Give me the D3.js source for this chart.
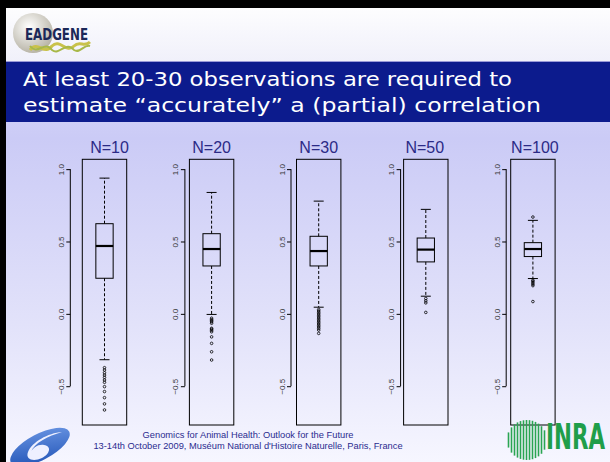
<!DOCTYPE html>
<html>
<head>
<meta charset="utf-8">
<title>Correlation accuracy by sample size</title>
<script src="https://cdn.jsdelivr.net/npm/d3@7"></script>
<style>
body, html { margin: 0; padding: 0; border: 0; background: #fff; }
svg { display: block; }
</style>
</head>
<body>
<script>
// --- data ---
var panelLabels = ["N=10", "N=20", "N=30", "N=50", "N=100"];
var lowerQuartile = [0.246, 0.331, 0.331, 0.359, 0.396];
var medians       = [0.469, 0.448, 0.434, 0.444, 0.448];
var upperQuartile = [0.623, 0.554, 0.536, 0.524, 0.492];
var whiskerLow    = [-0.317, -0.004, 0.046, 0.122, 0.244];
var whiskerHigh   = [0.938, 0.839, 0.779, 0.722, 0.646];
var outliers = [
  [-0.372, -0.388, -0.407, -0.423, -0.439, -0.457, -0.473, -0.503, -0.537, -0.579, -0.622, -0.664],
  [-0.03, -0.04, -0.047, -0.055, -0.065, -0.10, -0.106, -0.114, -0.124, -0.159, -0.204, -0.262, -0.319],
  [0.03, 0.02, 0.01, 0.0, -0.01, -0.02, -0.03, -0.04, -0.05, -0.06, -0.07, -0.08, -0.09, -0.10, -0.112, -0.135],
  [0.106, 0.09, 0.076, 0.01],
  [0.669, 0.232, 0.225, 0.215, 0.205, 0.195, 0.085]
];
var yTicks = [-0.5, 0.0, 0.5, 1.0];
var yLimits = [-0.7, 1.0];

var titleLines = ["At least 20-30 observations are required  to",
                  "estimate \u201caccurately\u201d a (partial) correlation"];
var footerLines = ["Genomics for Animal Health: Outlook for the Future",
                   "13-14th October 2009, Mus\u00e9um National d'Histoire Naturelle, Paris, France"];

// --- layout ---
var W = 610, H = 462;
var frameW = 44.4, frameTop = 159.3, frameBottom = 425;
var axisGap = [12, 4.5, 5.5, 3, 4.5];
var titleShift = [5, 0, 0, -1, 2];

var svg = d3.select("body").append("svg")
    .attr("width", W).attr("height", H);

var defs = svg.append("defs");
var bg = defs.append("linearGradient").attr("id", "bg")
    .attr("x1", 0).attr("y1", 0).attr("x2", 0).attr("y2", 1);
bg.append("stop").attr("offset", "0%").attr("stop-color", "#e4e4fb");
bg.append("stop").attr("offset", "30%").attr("stop-color", "#cbcbf6");
bg.append("stop").attr("offset", "70%").attr("stop-color", "#e2e2fa");
bg.append("stop").attr("offset", "100%").attr("stop-color", "#f6f6ff");
var hd = defs.append("linearGradient").attr("id", "hd")
    .attr("x1", 0).attr("y1", 0).attr("x2", 0).attr("y2", 1);
hd.append("stop").attr("offset", "0%").attr("stop-color", "#ffffff");
hd.append("stop").attr("offset", "100%").attr("stop-color", "#f0f0fa");
var sph = defs.append("radialGradient").attr("id", "sph")
    .attr("cx", "40%").attr("cy", "35%").attr("r", "65%");
sph.append("stop").attr("offset", "0%").attr("stop-color", "#ffffff");
sph.append("stop").attr("offset", "100%").attr("stop-color", "#b9b5a8");
var six = defs.append("linearGradient").attr("id", "six")
    .attr("x1", 0).attr("y1", 1).attr("x2", 1).attr("y2", 0);
six.append("stop").attr("offset", "0%").attr("stop-color", "#1a4db2");
six.append("stop").attr("offset", "100%").attr("stop-color", "#6f9ae6");

// background pieces
svg.append("rect").attr("width", W).attr("height", H).attr("fill", "url(#bg)");
svg.append("rect").attr("width", W).attr("height", 62).attr("fill", "url(#hd)");
svg.append("rect").attr("y", 61).attr("width", W).attr("height", 1).attr("fill", "#9a9ad8");
svg.append("rect").attr("y", 62).attr("width", W).attr("height", 60).attr("fill", "#0c1b8d");
svg.append("rect").attr("width", W).attr("height", 8).attr("fill", "#000");
svg.append("rect").attr("width", 6).attr("height", H).attr("fill", "#000");

// EADGENE logo
var logo = svg.append("g");
logo.append("circle").attr("cx", 33).attr("cy", 33).attr("r", 20).attr("fill", "url(#sph)");
logo.append("path")
    .attr("d", "M30,50 C38,40 44,56 52,46 C60,38 66,54 74,46 C80,40 84,48 90,42")
    .attr("fill", "none").attr("stroke", "#c9c24a").attr("stroke-width", 3);
logo.append("path")
    .attr("d", "M30,46 C38,56 44,40 52,50 C60,56 66,40 74,50 C80,54 84,44 90,46")
    .attr("fill", "none").attr("stroke", "#a8b848").attr("stroke-width", 2);
logo.append("text").attr("x", 25).attr("y", 40)
    .attr("font-family", "'Liberation Sans Narrow', 'DejaVu Sans Condensed', sans-serif")
    .attr("font-weight", "bold").attr("font-size", 15)
    .attr("textLength", 63).attr("lengthAdjust", "spacingAndGlyphs")
    .attr("fill", "#1b2858").text("EADGENE");

// slide title
svg.append("g").selectAll("text").data(titleLines).join("text")
    .attr("x", 23).attr("y", function(d, i) { return 86 + i * 26; })
    .attr("font-family", "'DejaVu Sans', Verdana, sans-serif")
    .attr("font-size", 20).attr("fill", "#fff")
    .attr("textLength", function(d, i) { return i === 0 ? 489 : 518; })
    .attr("lengthAdjust", "spacingAndGlyphs")
    .text(function(d) { return d; });

// scales
var x = d3.scaleLinear().domain([0, panelLabels.length - 1]).range([82.3, 510.7]);
var pad = (yLimits[1] - yLimits[0]) * 0.04;
var y = d3.scaleLinear().domain([yLimits[0] - pad, yLimits[1] + pad]).range([frameBottom, frameTop]);

var boxW = 17.3, capW = 10;

panelLabels.forEach(function(label, i) {
  var left = x(i), cx = left + frameW / 2;
  var g = svg.append("g");

  // frame
  g.append("rect").attr("x", left).attr("y", frameTop)
      .attr("width", frameW).attr("height", frameBottom - frameTop)
      .attr("fill", "none").attr("stroke", "#000").attr("stroke-width", 1);

  // y axis
  var ax = g.append("g").attr("transform", "translate(" + (left - axisGap[i]) + ",0)")
      .call(d3.axisLeft(y).tickValues(yTicks).tickSize(4).tickFormat(d3.format(".1f")));
  ax.select(".domain").remove();
  ax.append("line").attr("y1", y(yTicks[0])).attr("y2", y(yTicks[yTicks.length - 1]))
      .attr("stroke", "#000");
  ax.selectAll(".tick line").attr("stroke", "#000");
  ax.selectAll(".tick text")
      .attr("transform", "rotate(-90)")
      .attr("x", 0).attr("y", -6.5).attr("dy", 0)
      .attr("text-anchor", "middle")
      .attr("font-family", "'Liberation Sans', Arial, sans-serif")
      .attr("font-size", 8).attr("fill", "#333");

  // whiskers
  g.append("line").attr("x1", cx).attr("x2", cx)
      .attr("y1", y(upperQuartile[i])).attr("y2", y(whiskerHigh[i]))
      .attr("stroke", "#000").attr("stroke-dasharray", "3,2");
  g.append("line").attr("x1", cx).attr("x2", cx)
      .attr("y1", y(lowerQuartile[i])).attr("y2", y(whiskerLow[i]))
      .attr("stroke", "#000").attr("stroke-dasharray", "3,2");
  [whiskerHigh[i], whiskerLow[i]].forEach(function(v) {
    g.append("line").attr("x1", cx - capW / 2).attr("x2", cx + capW / 2)
        .attr("y1", y(v)).attr("y2", y(v)).attr("stroke", "#000");
  });

  // box and median
  g.append("rect").attr("x", cx - boxW / 2).attr("y", y(upperQuartile[i]))
      .attr("width", boxW).attr("height", y(lowerQuartile[i]) - y(upperQuartile[i]))
      .attr("fill", "none").attr("stroke", "#000").attr("stroke-width", 1);
  g.append("line").attr("x1", cx - boxW / 2).attr("x2", cx + boxW / 2)
      .attr("y1", y(medians[i])).attr("y2", y(medians[i]))
      .attr("stroke", "#000").attr("stroke-width", 2.2);

  // outliers
  g.selectAll("circle.out").data(outliers[i]).join("circle")
      .attr("class", "out")
      .attr("cx", cx).attr("cy", function(d) { return y(d); })
      .attr("r", 1.3).attr("fill", "none").attr("stroke", "#000").attr("stroke-width", 0.8);

  // panel title
  g.append("text").attr("x", cx + titleShift[i]).attr("y", 152.5)
      .attr("text-anchor", "middle")
      .attr("font-family", "'Liberation Sans', Arial, sans-serif")
      .attr("font-size", 16).attr("fill", "#2b2a86")
      .text(label);
});

// footer
svg.append("g").selectAll("text").data(footerLines).join("text")
    .attr("x", 248).attr("y", function(d, i) { return 438 + i * 11; })
    .attr("text-anchor", "middle")
    .attr("font-family", "'Liberation Sans', Arial, sans-serif")
    .attr("font-size", 9.3).attr("fill", "#2b2b8f")
    .text(function(d) { return d; });

// FP6 logo: tilted blue swoosh with a white "6" loop
var fp = svg.append("g");
fp.append("ellipse").attr("cx", 40).attr("cy", 447).attr("rx", 33).attr("ry", 13)
    .attr("transform", "rotate(-28,40,447)").attr("fill", "url(#six)");
fp.append("path")
    .attr("d", "M62,432 C48,433 32,442 28,452 C25,460 34,462 42,458 C50,454 52,446 44,445 C38,444 33,448 31,452 C34,443 48,436 62,432 Z")
    .attr("fill", "#eef0ff");

// INRA logo
var inra = svg.append("g");
var cxI = 527, cyI = 440, rI = 20;
d3.range(-rI + 1.5, rI, 3).forEach(function(dx) {
  var h = Math.sqrt(rI * rI - dx * dx);
  inra.append("line").attr("x1", cxI + dx).attr("x2", cxI + dx)
      .attr("y1", cyI - h).attr("y2", cyI + h)
      .attr("stroke", "#2aa552").attr("stroke-width", 1.6);
});
var inraText = inra.append("text")
    .attr("font-family", "'DejaVu Sans Condensed', 'Liberation Sans', sans-serif")
    .attr("font-weight", "bold").attr("font-size", 20)
    .attr("fill", "#1f9e4a").text("INRA");
// squeeze the wordmark into the 59px the slide gives it
var natW = inraText.node().getComputedTextLength() || 60;
inraText.attr("transform", "translate(546,449) scale(" + (59 / natW) + ",1.75)");
</script>
</body>
</html>
